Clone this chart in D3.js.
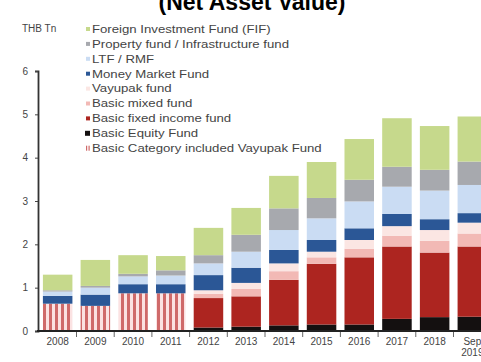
<!DOCTYPE html>
<html>
<head>
<meta charset="utf-8">
<script src="https://cdn.jsdelivr.net/npm/d3@7"></script>
<style>
  html, body { margin: 0; padding: 0; background: #fff; }
  svg { display: block; font-family: "Liberation Sans", Arial, sans-serif; }
</style>
</head>
<body>
<svg id="chart" width="481" height="362"></svg>
<script>
// Thai mutual fund industry NAV by fund type, THB trillion
const categories = ["2008","2009","2010","2011","2012","2013","2014","2015","2016","2017","2018","Sep 2019"];

const basicCategory = [0.63, 0.58, 0.87, 0.87, 0, 0, 0, 0, 0, 0, 0, 0];
const basicEquity   = [0, 0, 0, 0, 0.08, 0.10, 0.13, 0.15, 0.15, 0.28, 0.32, 0.33];
const basicFixed    = [0, 0, 0, 0, 0.68, 0.70, 1.05, 1.40, 1.55, 1.67, 1.49, 1.62];
const basicMixed    = [0, 0, 0, 0, 0.10, 0.17, 0.20, 0.15, 0.20, 0.25, 0.27, 0.30];
const vayupak       = [0, 0, 0, 0, 0.08, 0.14, 0.18, 0.13, 0.20, 0.22, 0.25, 0.25];
const moneyMarket   = [0.18, 0.26, 0.21, 0.21, 0.35, 0.35, 0.31, 0.27, 0.27, 0.28, 0.25, 0.22];
const ltfRmf        = [0.10, 0.16, 0.18, 0.20, 0.27, 0.37, 0.46, 0.50, 0.62, 0.63, 0.66, 0.65];
const propertyFund  = [0.03, 0.04, 0.06, 0.12, 0.19, 0.39, 0.50, 0.47, 0.50, 0.46, 0.48, 0.54];
const foreignFund   = [0.36, 0.60, 0.43, 0.33, 0.63, 0.62, 0.75, 0.83, 0.94, 1.12, 1.01, 1.04];

const yTicks = [0, 1, 2, 3, 4, 5, 6];

// stack order, bottom to top
const series = [
  { key: "basicCategory", label: "Basic Category included Vayupak Fund", values: basicCategory, fill: "url(#stripes)" },
  { key: "basicEquity",   label: "Basic Equity Fund",                   values: basicEquity,   fill: "#141010" },
  { key: "basicFixed",    label: "Basic fixed income fund",             values: basicFixed,    fill: "#ad2520" },
  { key: "basicMixed",    label: "Basic mixed fund",                    values: basicMixed,    fill: "#f2b9b5" },
  { key: "vayupak",       label: "Vayupak fund",                        values: vayupak,       fill: "#fbe6e3" },
  { key: "moneyMarket",   label: "Money Market Fund",                   values: moneyMarket,   fill: "#2b5796" },
  { key: "ltfRmf",        label: "LTF / RMF",                           values: ltfRmf,        fill: "#cadcf3" },
  { key: "propertyFund",  label: "Property fund / Infrastructure fund", values: propertyFund,  fill: "#a7a9ae" },
  { key: "foreignFund",   label: "Foreign Investment Fund (FIF)",       values: foreignFund,   fill: "#c6d98c" }
];

const table = categories.map((c, i) => {
  const row = { category: c };
  series.forEach(s => { row[s.key] = s.values[i]; });
  return row;
});

const svg = d3.select("#chart");

// striped fill for the combined basic category
const defs = svg.append("defs");
const pat = defs.append("pattern")
  .attr("id", "stripes")
  .attr("patternUnits", "userSpaceOnUse")
  .attr("width", 6).attr("height", 10);
pat.append("rect").attr("width", 6).attr("height", 10).attr("fill", "#fbe2e2");
pat.append("rect").attr("x", 1).attr("width", 3).attr("height", 10).attr("fill", "#cf6a6a");

const x = d3.scaleBand()
  .domain(categories)
  .range([38, 492])
  .paddingInner(0.217)
  .paddingOuter(0.13);

const y = d3.scaleLinear().domain([0, 6]).range([331, 71]);

const stack = d3.stack().keys(series.map(s => s.key));
const layers = stack(table);

const plot = svg.append("g");
plot.selectAll("g.layer")
  .data(layers)
  .join("g")
  .attr("class", "layer")
  .attr("fill", (d, i) => series[i].fill)
  .selectAll("rect")
  .data(d => d)
  .join("rect")
  .attr("x", d => x(d.data.category))
  .attr("width", x.bandwidth())
  .attr("y", d => y(d[1]))
  .attr("height", d => Math.max(0, y(d[0]) - y(d[1])));

// title (partly above the top edge)
svg.append("text")
  .attr("x", 252).attr("y", 10)
  .attr("text-anchor", "middle")
  .attr("font-size", 23).attr("font-weight", "bold")
  .attr("fill", "#000")
  .text("(Net Asset Value)");

// y axis
const yAxis = svg.append("g").attr("transform", "translate(38,0)")
  .call(d3.axisLeft(y).tickValues(yTicks).tickSize(3).tickPadding(7).tickFormat(d3.format("d")));
yAxis.select(".domain").attr("stroke", "#333").attr("stroke-width", 1.8);
yAxis.selectAll(".tick line").attr("stroke", "#444");
yAxis.selectAll(".tick text").attr("font-size", 10).attr("fill", "#444")
  .attr("font-family", "Liberation Sans, Arial, sans-serif");

// x axis
const xg = svg.append("g").attr("transform", "translate(0,331)");
xg.append("line").attr("x1", 37).attr("x2", 481).attr("y1", 0).attr("y2", 0)
  .attr("stroke", "#222").attr("stroke-width", 2);
const step = x.step();
xg.selectAll("line.sep")
  .data(categories.slice(1))
  .join("line")
  .attr("class", "sep")
  .attr("x1", d => x(d) - step * x.paddingInner() / 2)
  .attr("x2", d => x(d) - step * x.paddingInner() / 2)
  .attr("y1", 1).attr("y2", 6)
  .attr("stroke", "#666").attr("stroke-width", 1);
const xl = xg.selectAll("text.xl")
  .data(categories)
  .join("text")
  .attr("class", "xl")
  .attr("x", d => x(d) + x.bandwidth() / 2)
  .attr("y", 14)
  .attr("text-anchor", "middle")
  .attr("font-size", 10)
  .attr("fill", "#444");
xl.each(function(d) {
  const parts = d.split(" ");
  const t = d3.select(this);
  parts.forEach((p, i) => {
    t.append("tspan").attr("x", x(d) + x.bandwidth() / 2).attr("dy", i === 0 ? 0 : 11).text(p);
  });
});

// unit label
svg.append("text")
  .attr("x", 22).attr("y", 32)
  .attr("font-size", 10).attr("fill", "#444")
  .text("THB Tn");

// legend, top row first
const legendItems = series.slice().reverse();
const legend = svg.append("g");
const rowH = 14.9, legendTop = 29;
const rows = legend.selectAll("g.item")
  .data(legendItems)
  .join("g")
  .attr("class", "item")
  .attr("transform", (d, i) => `translate(0,${legendTop + i * rowH})`);
rows.each(function(d) {
  const g = d3.select(this);
  if (d.key === "basicCategory") {
    g.append("rect").attr("x", 86).attr("y", -2.5).attr("width", 1.2).attr("height", 5).attr("fill", "#cf6a6a");
    g.append("rect").attr("x", 88.5).attr("y", -2.5).attr("width", 1.2).attr("height", 5).attr("fill", "#cf6a6a");
  } else {
    const sz = d.key === "basicEquity" ? 5 : 4;
    g.append("rect").attr("x", 90 - sz).attr("y", -sz / 2).attr("width", sz).attr("height", sz).attr("fill", d.fill);
  }
  g.append("text")
    .attr("transform", "translate(92,3.8) scale(1.2,1)")
    .attr("font-size", 11)
    .attr("fill", "#444")
    .text(d.label);
});
</script>
</body>
</html>
